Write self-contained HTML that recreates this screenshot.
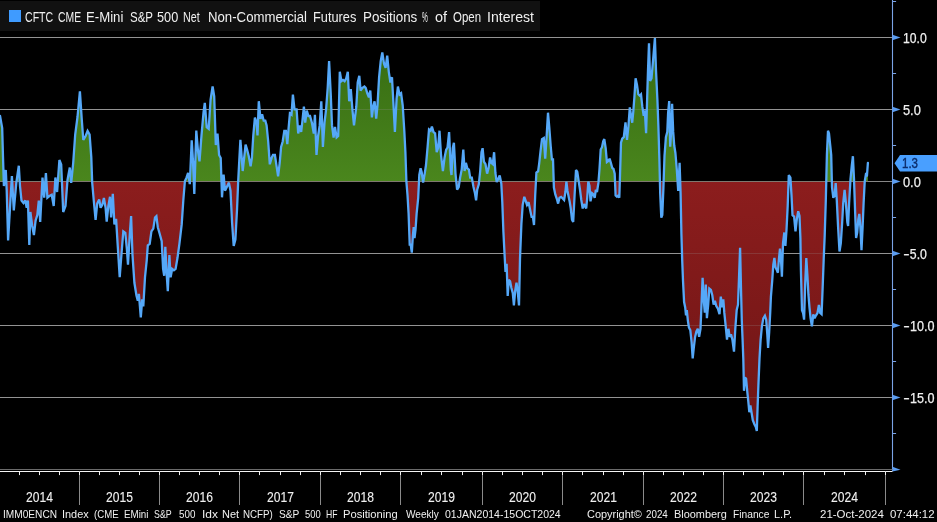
<!DOCTYPE html><html><head><meta charset="utf-8"><title>Chart</title><style>
html,body{margin:0;padding:0;background:#000;}
body{width:937px;height:522px;overflow:hidden;position:relative;font-family:"Liberation Sans",sans-serif;color:#f0f0f0;}
.t{position:absolute;white-space:nowrap;line-height:1;transform-origin:0 0;}
.yl{font-size:14px;-webkit-text-stroke:0.25px #f0f0f0;}
.m{display:inline-block;width:0.556em;text-align:center;transform:scaleX(1.55);}
.yr{font-size:14px;-webkit-text-stroke:0.1px #f0f0f0;}
.ft{font-size:11px;}
.lgd{font-size:14px;}
.g{position:absolute;left:0;width:937px;height:16px;white-space:nowrap;line-height:1;}
</style></head><body>
<svg width="937" height="522" viewBox="0 0 937 522" style="position:absolute;left:0;top:0">
<defs>
<clipPath id="up"><rect x="0" y="0" width="937" height="181.5"/></clipPath>
<clipPath id="dn"><rect x="0" y="181.5" width="937" height="522"/></clipPath>
<linearGradient id="gg" x1="0" y1="37" x2="0" y2="181" gradientUnits="userSpaceOnUse"><stop offset="0" stop-color="#356a12"/><stop offset="1" stop-color="#4a861d"/></linearGradient>
<linearGradient id="rg" x1="0" y1="181" x2="0" y2="432" gradientUnits="userSpaceOnUse"><stop offset="0" stop-color="#8c1d1d"/><stop offset="1" stop-color="#6e1515"/></linearGradient>
</defs>
<rect width="937" height="522" fill="#000"/>
<line x1="0" y1="37.5" x2="892.5" y2="37.5" stroke="#929292" stroke-width="1"/>
<line x1="0" y1="109.5" x2="892.5" y2="109.5" stroke="#929292" stroke-width="1"/>
<line x1="0" y1="181.5" x2="892.5" y2="181.5" stroke="#929292" stroke-width="1"/>
<line x1="0" y1="253.5" x2="892.5" y2="253.5" stroke="#929292" stroke-width="1"/>
<line x1="0" y1="325.5" x2="892.5" y2="325.5" stroke="#929292" stroke-width="1"/>
<line x1="0" y1="397.5" x2="892.5" y2="397.5" stroke="#929292" stroke-width="1"/>
<path d="M0.0,115.8 L2.2,128.0 L3.0,157.0 L3.9,186.0 L5.8,170.0 L6.7,190.0 L8.1,240.5 L10.0,208.0 L11.9,176.0 L13.8,210.5 L16.3,183.0 L18.8,165.7 L20.0,186.0 L21.5,200.5 L23.5,203.0 L25.3,200.5 L26.7,207.7 L27.9,200.5 L29.3,245.0 L30.4,212.0 L32.2,226.0 L33.9,235.0 L35.6,220.6 L37.3,215.0 L38.8,200.5 L40.2,222.0 L42.5,177.5 L44.2,197.6 L45.9,173.0 L47.4,197.6 L49.4,196.0 L51.7,194.8 L53.7,206.0 L55.4,177.5 L57.1,192.0 L59.4,160.0 L61.2,164.6 L63.2,212.0 L65.5,206.0 L67.5,180.0 L69.8,167.5 L71.2,183.0 L73.2,163.0 L75.2,134.5 L77.5,117.0 L79.9,91.3 L81.8,120.0 L83.3,140.0 L85.6,136.0 L87.6,131.0 L89.6,134.5 L91.3,157.4 L92.2,182.8 L93.9,202.0 L95.6,220.0 L97.2,203.6 L99.2,199.4 L100.6,207.8 L102.2,205.0 L103.9,198.0 L105.6,207.8 L106.7,221.7 L108.3,206.4 L110.0,196.7 L111.1,217.5 L112.8,193.9 L114.4,224.4 L116.1,218.9 L117.8,246.7 L119.7,277.2 L121.4,255.0 L123.3,231.4 L125.3,232.8 L126.9,249.4 L128.0,264.7 L129.7,235.6 L131.1,216.1 L132.5,255.0 L134.4,282.8 L136.4,295.3 L137.8,300.8 L138.9,293.9 L140.8,317.5 L142.2,299.4 L143.3,306.4 L145.0,277.2 L146.7,260.6 L147.8,245.3 L149.7,243.9 L151.4,231.4 L153.3,228.6 L155.0,217.5 L156.4,216.1 L157.8,227.2 L159.4,232.8 L161.7,241.1 L163.1,268.9 L164.2,275.8 L165.3,246.7 L166.7,274.4 L167.8,291.1 L169.4,255.0 L170.6,277.2 L172.2,268.9 L173.9,270.3 L175.6,268.9 L177.5,257.8 L179.4,243.9 L181.7,224.4 L183.3,200.5 L184.9,181.0 L186.5,177.7 L188.1,172.8 L189.8,184.2 L191.7,140.3 L193.0,161.4 L194.3,194.0 L196.3,130.5 L197.9,150.0 L199.5,161.4 L201.5,135.4 L203.5,112.6 L204.8,102.8 L206.7,127.2 L208.7,128.9 L210.6,99.5 L212.6,86.5 L214.2,96.3 L215.8,145.0 L217.5,133.7 L219.1,155.0 L220.7,158.0 L222.0,197.3 L223.6,174.5 L225.0,190.7 L226.6,187.5 L228.9,182.6 L230.5,190.7 L232.1,223.0 L233.7,246.0 L235.4,239.6 L237.0,210.0 L238.2,181.0 L239.3,160.0 L240.4,139.8 L242.7,171.0 L245.6,144.6 L247.2,150.0 L248.7,156.0 L250.6,166.3 L251.9,158.0 L253.3,135.4 L254.9,117.5 L256.5,122.3 L257.5,135.4 L258.8,101.2 L260.5,119.0 L262.1,114.2 L263.7,120.7 L265.3,120.7 L266.6,125.4 L268.2,141.5 L269.8,164.3 L271.7,157.6 L273.0,155.0 L274.9,155.0 L276.5,165.6 L278.1,176.4 L279.7,163.0 L281.1,146.9 L282.7,141.5 L284.3,130.8 L285.9,130.8 L287.3,144.2 L288.6,128.0 L289.9,113.4 L291.5,114.7 L292.9,94.6 L294.5,109.3 L296.6,109.3 L298.2,133.5 L299.9,125.4 L301.2,132.0 L302.5,120.0 L303.9,106.7 L305.2,122.7 L306.8,110.7 L308.4,116.0 L310.0,116.0 L311.9,122.7 L313.8,133.5 L314.9,114.7 L316.5,155.0 L318.1,136.0 L319.7,125.4 L321.3,101.3 L322.9,146.9 L324.5,122.7 L326.1,109.3 L327.7,87.9 L329.1,61.1 L330.7,93.3 L332.0,125.4 L333.6,137.5 L335.0,126.8 L336.6,137.5 L338.2,136.0 L339.8,71.8 L341.4,81.2 L343.0,79.9 L344.6,81.2 L346.2,78.5 L347.8,71.8 L349.2,101.3 L350.8,89.2 L352.4,109.3 L354.0,125.4 L356.3,106.7 L357.7,82.5 L359.3,75.8 L360.6,90.6 L362.5,87.9 L364.4,86.6 L365.7,87.9 L367.3,93.3 L368.9,97.3 L370.3,90.6 L371.9,117.4 L373.2,106.7 L374.6,101.3 L376.2,118.7 L377.5,105.3 L379.1,77.2 L380.7,61.1 L382.3,52.5 L384.0,63.8 L385.6,67.8 L387.2,55.7 L388.8,71.8 L390.4,82.5 L392.0,77.2 L393.6,106.7 L394.9,132.0 L396.6,98.6 L397.9,86.6 L399.5,94.6 L401.1,93.3 L402.7,105.3 L404.3,130.8 L405.4,152.2 L406.4,181.7 L407.5,195.0 L408.6,213.8 L409.7,244.7 L410.7,244.7 L411.8,252.7 L412.9,235.3 L413.7,227.2 L414.5,238.0 L415.5,230.0 L416.6,213.8 L418.2,198.0 L419.3,175.0 L420.6,168.3 L421.7,172.3 L423.1,182.5 L424.7,173.6 L426.0,165.0 L427.6,146.8 L429.0,129.4 L430.6,130.7 L431.9,126.7 L433.5,132.0 L435.1,133.4 L436.7,152.2 L438.1,148.0 L439.5,130.7 L441.0,155.0 L442.9,171.0 L444.5,158.0 L446.1,150.0 L447.5,147.5 L449.1,132.0 L450.8,170.0 L451.5,175.0 L452.8,148.0 L453.9,142.8 L455.5,173.6 L457.1,189.7 L458.7,187.0 L460.1,177.6 L461.7,169.6 L463.3,149.5 L464.6,171.0 L465.9,162.9 L467.3,168.3 L468.9,169.6 L470.2,177.6 L471.8,177.6 L473.5,187.0 L474.8,192.4 L476.1,200.4 L477.2,189.7 L478.8,184.3 L480.2,171.0 L481.5,152.2 L482.6,148.2 L483.9,161.6 L485.5,164.2 L487.1,173.6 L488.5,168.3 L490.1,157.5 L491.4,162.9 L492.8,164.2 L494.1,152.2 L495.4,173.0 L496.7,182.0 L498.0,179.4 L499.7,175.4 L501.3,183.4 L502.3,202.2 L503.4,231.7 L504.5,253.1 L505.5,271.9 L506.6,263.8 L507.7,296.0 L508.8,279.9 L510.1,281.3 L511.4,288.0 L512.8,293.3 L513.9,305.4 L515.2,290.6 L516.5,282.6 L517.9,293.3 L519.0,305.4 L520.0,258.5 L521.4,223.6 L522.7,204.9 L524.3,196.8 L525.7,200.8 L527.0,204.9 L528.6,202.2 L530.2,210.2 L531.6,216.9 L532.9,216.9 L534.0,225.0 L535.2,195.0 L536.4,172.5 L538.1,171.3 L539.2,163.3 L540.6,150.6 L542.0,139.1 L543.8,138.0 L545.2,158.7 L546.6,136.8 L548.0,112.7 L549.3,127.6 L550.7,146.0 L551.9,159.4 L553.0,159.4 L553.9,187.5 L555.3,194.4 L556.9,199.0 L558.1,203.6 L559.5,197.8 L561.1,197.0 L562.7,198.5 L564.1,200.0 L565.4,192.0 L566.4,181.7 L567.5,190.9 L568.7,197.0 L569.6,201.3 L570.7,208.0 L572.0,219.7 L573.2,222.0 L574.6,195.0 L576.0,170.0 L577.3,172.0 L578.6,180.7 L579.9,189.0 L581.3,200.0 L582.7,208.5 L584.0,204.0 L585.2,206.5 L586.2,208.5 L587.2,198.0 L588.3,181.5 L589.5,186.0 L590.5,201.3 L592.1,193.2 L593.5,194.4 L594.7,197.8 L595.8,189.8 L597.0,192.0 L598.4,182.9 L599.5,169.0 L600.7,149.5 L602.0,147.2 L603.2,141.4 L604.3,139.1 L605.7,148.3 L606.9,162.1 L608.3,161.0 L609.6,158.7 L611.0,163.3 L612.2,167.9 L613.5,169.0 L614.7,173.6 L615.6,195.5 L617.0,196.7 L618.4,195.5 L619.3,197.8 L620.2,169.0 L621.0,142.6 L622.2,138.6 L623.8,137.2 L625.5,122.3 L627.0,139.9 L628.4,126.5 L629.8,107.3 L631.2,116.5 L632.2,122.7 L633.3,111.5 L634.4,97.0 L635.6,78.3 L637.0,85.0 L638.3,94.3 L639.7,95.7 L641.0,94.3 L642.3,106.4 L643.7,115.8 L644.8,110.4 L646.1,133.2 L647.2,97.0 L648.0,70.2 L649.0,43.4 L650.1,80.9 L651.5,78.3 L652.8,63.5 L653.9,50.1 L654.9,38.0 L656.0,70.2 L657.4,99.7 L658.4,126.5 L659.4,160.0 L660.2,193.6 L661.3,217.7 L662.3,215.0 L663.4,188.3 L664.5,156.0 L665.9,137.2 L667.3,131.9 L668.1,113.1 L669.2,101.0 L670.2,146.6 L671.3,129.2 L672.1,103.7 L673.2,131.9 L674.2,145.3 L675.4,153.0 L676.8,169.5 L678.2,190.9 L679.6,162.8 L680.6,193.6 L681.4,233.8 L682.2,260.0 L683.0,280.6 L684.1,302.0 L685.2,307.4 L686.0,315.4 L686.8,310.0 L687.9,320.8 L688.9,327.5 L690.3,330.2 L691.6,342.2 L692.7,358.3 L693.8,347.6 L695.1,336.9 L696.4,331.5 L697.8,328.8 L699.1,336.9 L700.5,328.8 L701.5,304.7 L702.6,277.9 L703.7,299.3 L704.8,312.7 L705.8,284.6 L706.9,318.1 L708.2,304.7 L709.3,288.6 L710.9,290.0 L712.3,295.3 L713.6,304.7 L714.9,300.7 L716.3,306.0 L717.9,308.7 L719.5,314.1 L720.8,296.7 L722.2,307.4 L723.3,299.3 L724.3,312.7 L725.7,326.2 L727.0,339.6 L728.4,328.8 L729.7,336.9 L731.0,334.2 L732.4,339.6 L734.0,351.6 L735.3,328.8 L736.7,310.0 L738.0,304.7 L739.1,275.2 L740.1,247.9 L741.0,288.6 L741.8,320.8 L742.6,340.0 L743.3,358.6 L744.0,390.8 L745.0,377.4 L746.1,378.7 L747.2,390.8 L748.3,401.5 L749.3,412.2 L750.4,405.5 L751.5,412.2 L752.8,420.3 L754.4,424.3 L755.8,427.0 L756.8,431.0 L757.6,406.9 L758.4,385.4 L759.5,358.6 L760.6,339.9 L761.9,326.4 L763.3,318.4 L764.9,315.7 L766.2,319.7 L767.3,334.5 L768.1,347.9 L769.2,331.8 L770.2,313.0 L770.9,296.9 L772.2,280.8 L773.3,264.7 L774.4,258.0 L775.5,267.4 L776.8,270.0 L777.9,272.7 L778.9,259.3 L780.0,248.6 L781.1,262.0 L781.9,276.8 L783.0,243.3 L784.3,232.5 L785.4,245.9 L786.5,230.0 L787.7,205.9 L788.8,175.0 L790.4,177.7 L791.5,195.1 L792.5,215.2 L794.1,216.6 L795.5,231.3 L796.8,219.3 L798.2,211.2 L799.5,216.0 L800.4,238.0 L800.9,270.0 L802.0,310.3 L803.1,313.0 L804.1,319.7 L805.2,283.5 L806.3,258.0 L807.4,275.4 L808.4,294.2 L809.5,307.6 L810.6,318.3 L811.9,326.4 L813.3,314.3 L814.6,318.3 L815.9,315.6 L817.5,313.0 L818.9,304.9 L820.2,313.0 L821.6,314.3 L822.7,286.2 L823.7,259.3 L824.7,235.4 L825.8,200.5 L826.9,154.9 L828.0,130.7 L829.0,133.4 L830.1,144.1 L831.2,154.9 L832.0,187.1 L833.3,197.8 L834.7,195.1 L835.7,183.0 L836.8,200.5 L838.1,227.3 L839.5,251.5 L840.8,243.4 L842.2,222.0 L843.2,203.2 L844.6,189.8 L845.9,203.2 L847.3,222.0 L848.1,226.0 L849.1,203.2 L850.5,179.0 L851.8,165.6 L852.9,156.2 L854.0,179.0 L855.0,208.5 L856.1,238.0 L857.2,232.7 L858.3,219.3 L859.3,213.9 L860.4,227.3 L861.5,250.1 L862.6,227.3 L863.6,203.2 L864.7,181.7 L865.8,175.0 L866.9,176.3 L867.9,162.9 L867.9,181.5 L0.0,181.5 Z" fill="url(#gg)" clip-path="url(#up)"/>
<path d="M0.0,115.8 L2.2,128.0 L3.0,157.0 L3.9,186.0 L5.8,170.0 L6.7,190.0 L8.1,240.5 L10.0,208.0 L11.9,176.0 L13.8,210.5 L16.3,183.0 L18.8,165.7 L20.0,186.0 L21.5,200.5 L23.5,203.0 L25.3,200.5 L26.7,207.7 L27.9,200.5 L29.3,245.0 L30.4,212.0 L32.2,226.0 L33.9,235.0 L35.6,220.6 L37.3,215.0 L38.8,200.5 L40.2,222.0 L42.5,177.5 L44.2,197.6 L45.9,173.0 L47.4,197.6 L49.4,196.0 L51.7,194.8 L53.7,206.0 L55.4,177.5 L57.1,192.0 L59.4,160.0 L61.2,164.6 L63.2,212.0 L65.5,206.0 L67.5,180.0 L69.8,167.5 L71.2,183.0 L73.2,163.0 L75.2,134.5 L77.5,117.0 L79.9,91.3 L81.8,120.0 L83.3,140.0 L85.6,136.0 L87.6,131.0 L89.6,134.5 L91.3,157.4 L92.2,182.8 L93.9,202.0 L95.6,220.0 L97.2,203.6 L99.2,199.4 L100.6,207.8 L102.2,205.0 L103.9,198.0 L105.6,207.8 L106.7,221.7 L108.3,206.4 L110.0,196.7 L111.1,217.5 L112.8,193.9 L114.4,224.4 L116.1,218.9 L117.8,246.7 L119.7,277.2 L121.4,255.0 L123.3,231.4 L125.3,232.8 L126.9,249.4 L128.0,264.7 L129.7,235.6 L131.1,216.1 L132.5,255.0 L134.4,282.8 L136.4,295.3 L137.8,300.8 L138.9,293.9 L140.8,317.5 L142.2,299.4 L143.3,306.4 L145.0,277.2 L146.7,260.6 L147.8,245.3 L149.7,243.9 L151.4,231.4 L153.3,228.6 L155.0,217.5 L156.4,216.1 L157.8,227.2 L159.4,232.8 L161.7,241.1 L163.1,268.9 L164.2,275.8 L165.3,246.7 L166.7,274.4 L167.8,291.1 L169.4,255.0 L170.6,277.2 L172.2,268.9 L173.9,270.3 L175.6,268.9 L177.5,257.8 L179.4,243.9 L181.7,224.4 L183.3,200.5 L184.9,181.0 L186.5,177.7 L188.1,172.8 L189.8,184.2 L191.7,140.3 L193.0,161.4 L194.3,194.0 L196.3,130.5 L197.9,150.0 L199.5,161.4 L201.5,135.4 L203.5,112.6 L204.8,102.8 L206.7,127.2 L208.7,128.9 L210.6,99.5 L212.6,86.5 L214.2,96.3 L215.8,145.0 L217.5,133.7 L219.1,155.0 L220.7,158.0 L222.0,197.3 L223.6,174.5 L225.0,190.7 L226.6,187.5 L228.9,182.6 L230.5,190.7 L232.1,223.0 L233.7,246.0 L235.4,239.6 L237.0,210.0 L238.2,181.0 L239.3,160.0 L240.4,139.8 L242.7,171.0 L245.6,144.6 L247.2,150.0 L248.7,156.0 L250.6,166.3 L251.9,158.0 L253.3,135.4 L254.9,117.5 L256.5,122.3 L257.5,135.4 L258.8,101.2 L260.5,119.0 L262.1,114.2 L263.7,120.7 L265.3,120.7 L266.6,125.4 L268.2,141.5 L269.8,164.3 L271.7,157.6 L273.0,155.0 L274.9,155.0 L276.5,165.6 L278.1,176.4 L279.7,163.0 L281.1,146.9 L282.7,141.5 L284.3,130.8 L285.9,130.8 L287.3,144.2 L288.6,128.0 L289.9,113.4 L291.5,114.7 L292.9,94.6 L294.5,109.3 L296.6,109.3 L298.2,133.5 L299.9,125.4 L301.2,132.0 L302.5,120.0 L303.9,106.7 L305.2,122.7 L306.8,110.7 L308.4,116.0 L310.0,116.0 L311.9,122.7 L313.8,133.5 L314.9,114.7 L316.5,155.0 L318.1,136.0 L319.7,125.4 L321.3,101.3 L322.9,146.9 L324.5,122.7 L326.1,109.3 L327.7,87.9 L329.1,61.1 L330.7,93.3 L332.0,125.4 L333.6,137.5 L335.0,126.8 L336.6,137.5 L338.2,136.0 L339.8,71.8 L341.4,81.2 L343.0,79.9 L344.6,81.2 L346.2,78.5 L347.8,71.8 L349.2,101.3 L350.8,89.2 L352.4,109.3 L354.0,125.4 L356.3,106.7 L357.7,82.5 L359.3,75.8 L360.6,90.6 L362.5,87.9 L364.4,86.6 L365.7,87.9 L367.3,93.3 L368.9,97.3 L370.3,90.6 L371.9,117.4 L373.2,106.7 L374.6,101.3 L376.2,118.7 L377.5,105.3 L379.1,77.2 L380.7,61.1 L382.3,52.5 L384.0,63.8 L385.6,67.8 L387.2,55.7 L388.8,71.8 L390.4,82.5 L392.0,77.2 L393.6,106.7 L394.9,132.0 L396.6,98.6 L397.9,86.6 L399.5,94.6 L401.1,93.3 L402.7,105.3 L404.3,130.8 L405.4,152.2 L406.4,181.7 L407.5,195.0 L408.6,213.8 L409.7,244.7 L410.7,244.7 L411.8,252.7 L412.9,235.3 L413.7,227.2 L414.5,238.0 L415.5,230.0 L416.6,213.8 L418.2,198.0 L419.3,175.0 L420.6,168.3 L421.7,172.3 L423.1,182.5 L424.7,173.6 L426.0,165.0 L427.6,146.8 L429.0,129.4 L430.6,130.7 L431.9,126.7 L433.5,132.0 L435.1,133.4 L436.7,152.2 L438.1,148.0 L439.5,130.7 L441.0,155.0 L442.9,171.0 L444.5,158.0 L446.1,150.0 L447.5,147.5 L449.1,132.0 L450.8,170.0 L451.5,175.0 L452.8,148.0 L453.9,142.8 L455.5,173.6 L457.1,189.7 L458.7,187.0 L460.1,177.6 L461.7,169.6 L463.3,149.5 L464.6,171.0 L465.9,162.9 L467.3,168.3 L468.9,169.6 L470.2,177.6 L471.8,177.6 L473.5,187.0 L474.8,192.4 L476.1,200.4 L477.2,189.7 L478.8,184.3 L480.2,171.0 L481.5,152.2 L482.6,148.2 L483.9,161.6 L485.5,164.2 L487.1,173.6 L488.5,168.3 L490.1,157.5 L491.4,162.9 L492.8,164.2 L494.1,152.2 L495.4,173.0 L496.7,182.0 L498.0,179.4 L499.7,175.4 L501.3,183.4 L502.3,202.2 L503.4,231.7 L504.5,253.1 L505.5,271.9 L506.6,263.8 L507.7,296.0 L508.8,279.9 L510.1,281.3 L511.4,288.0 L512.8,293.3 L513.9,305.4 L515.2,290.6 L516.5,282.6 L517.9,293.3 L519.0,305.4 L520.0,258.5 L521.4,223.6 L522.7,204.9 L524.3,196.8 L525.7,200.8 L527.0,204.9 L528.6,202.2 L530.2,210.2 L531.6,216.9 L532.9,216.9 L534.0,225.0 L535.2,195.0 L536.4,172.5 L538.1,171.3 L539.2,163.3 L540.6,150.6 L542.0,139.1 L543.8,138.0 L545.2,158.7 L546.6,136.8 L548.0,112.7 L549.3,127.6 L550.7,146.0 L551.9,159.4 L553.0,159.4 L553.9,187.5 L555.3,194.4 L556.9,199.0 L558.1,203.6 L559.5,197.8 L561.1,197.0 L562.7,198.5 L564.1,200.0 L565.4,192.0 L566.4,181.7 L567.5,190.9 L568.7,197.0 L569.6,201.3 L570.7,208.0 L572.0,219.7 L573.2,222.0 L574.6,195.0 L576.0,170.0 L577.3,172.0 L578.6,180.7 L579.9,189.0 L581.3,200.0 L582.7,208.5 L584.0,204.0 L585.2,206.5 L586.2,208.5 L587.2,198.0 L588.3,181.5 L589.5,186.0 L590.5,201.3 L592.1,193.2 L593.5,194.4 L594.7,197.8 L595.8,189.8 L597.0,192.0 L598.4,182.9 L599.5,169.0 L600.7,149.5 L602.0,147.2 L603.2,141.4 L604.3,139.1 L605.7,148.3 L606.9,162.1 L608.3,161.0 L609.6,158.7 L611.0,163.3 L612.2,167.9 L613.5,169.0 L614.7,173.6 L615.6,195.5 L617.0,196.7 L618.4,195.5 L619.3,197.8 L620.2,169.0 L621.0,142.6 L622.2,138.6 L623.8,137.2 L625.5,122.3 L627.0,139.9 L628.4,126.5 L629.8,107.3 L631.2,116.5 L632.2,122.7 L633.3,111.5 L634.4,97.0 L635.6,78.3 L637.0,85.0 L638.3,94.3 L639.7,95.7 L641.0,94.3 L642.3,106.4 L643.7,115.8 L644.8,110.4 L646.1,133.2 L647.2,97.0 L648.0,70.2 L649.0,43.4 L650.1,80.9 L651.5,78.3 L652.8,63.5 L653.9,50.1 L654.9,38.0 L656.0,70.2 L657.4,99.7 L658.4,126.5 L659.4,160.0 L660.2,193.6 L661.3,217.7 L662.3,215.0 L663.4,188.3 L664.5,156.0 L665.9,137.2 L667.3,131.9 L668.1,113.1 L669.2,101.0 L670.2,146.6 L671.3,129.2 L672.1,103.7 L673.2,131.9 L674.2,145.3 L675.4,153.0 L676.8,169.5 L678.2,190.9 L679.6,162.8 L680.6,193.6 L681.4,233.8 L682.2,260.0 L683.0,280.6 L684.1,302.0 L685.2,307.4 L686.0,315.4 L686.8,310.0 L687.9,320.8 L688.9,327.5 L690.3,330.2 L691.6,342.2 L692.7,358.3 L693.8,347.6 L695.1,336.9 L696.4,331.5 L697.8,328.8 L699.1,336.9 L700.5,328.8 L701.5,304.7 L702.6,277.9 L703.7,299.3 L704.8,312.7 L705.8,284.6 L706.9,318.1 L708.2,304.7 L709.3,288.6 L710.9,290.0 L712.3,295.3 L713.6,304.7 L714.9,300.7 L716.3,306.0 L717.9,308.7 L719.5,314.1 L720.8,296.7 L722.2,307.4 L723.3,299.3 L724.3,312.7 L725.7,326.2 L727.0,339.6 L728.4,328.8 L729.7,336.9 L731.0,334.2 L732.4,339.6 L734.0,351.6 L735.3,328.8 L736.7,310.0 L738.0,304.7 L739.1,275.2 L740.1,247.9 L741.0,288.6 L741.8,320.8 L742.6,340.0 L743.3,358.6 L744.0,390.8 L745.0,377.4 L746.1,378.7 L747.2,390.8 L748.3,401.5 L749.3,412.2 L750.4,405.5 L751.5,412.2 L752.8,420.3 L754.4,424.3 L755.8,427.0 L756.8,431.0 L757.6,406.9 L758.4,385.4 L759.5,358.6 L760.6,339.9 L761.9,326.4 L763.3,318.4 L764.9,315.7 L766.2,319.7 L767.3,334.5 L768.1,347.9 L769.2,331.8 L770.2,313.0 L770.9,296.9 L772.2,280.8 L773.3,264.7 L774.4,258.0 L775.5,267.4 L776.8,270.0 L777.9,272.7 L778.9,259.3 L780.0,248.6 L781.1,262.0 L781.9,276.8 L783.0,243.3 L784.3,232.5 L785.4,245.9 L786.5,230.0 L787.7,205.9 L788.8,175.0 L790.4,177.7 L791.5,195.1 L792.5,215.2 L794.1,216.6 L795.5,231.3 L796.8,219.3 L798.2,211.2 L799.5,216.0 L800.4,238.0 L800.9,270.0 L802.0,310.3 L803.1,313.0 L804.1,319.7 L805.2,283.5 L806.3,258.0 L807.4,275.4 L808.4,294.2 L809.5,307.6 L810.6,318.3 L811.9,326.4 L813.3,314.3 L814.6,318.3 L815.9,315.6 L817.5,313.0 L818.9,304.9 L820.2,313.0 L821.6,314.3 L822.7,286.2 L823.7,259.3 L824.7,235.4 L825.8,200.5 L826.9,154.9 L828.0,130.7 L829.0,133.4 L830.1,144.1 L831.2,154.9 L832.0,187.1 L833.3,197.8 L834.7,195.1 L835.7,183.0 L836.8,200.5 L838.1,227.3 L839.5,251.5 L840.8,243.4 L842.2,222.0 L843.2,203.2 L844.6,189.8 L845.9,203.2 L847.3,222.0 L848.1,226.0 L849.1,203.2 L850.5,179.0 L851.8,165.6 L852.9,156.2 L854.0,179.0 L855.0,208.5 L856.1,238.0 L857.2,232.7 L858.3,219.3 L859.3,213.9 L860.4,227.3 L861.5,250.1 L862.6,227.3 L863.6,203.2 L864.7,181.7 L865.8,175.0 L866.9,176.3 L867.9,162.9 L867.9,181.5 L0.0,181.5 Z" fill="url(#rg)" clip-path="url(#dn)"/>
<line x1="0" y1="37.5" x2="892.5" y2="37.5" stroke="#9a9a9a" stroke-width="1" opacity="0.22"/>
<line x1="0" y1="109.5" x2="892.5" y2="109.5" stroke="#9a9a9a" stroke-width="1" opacity="0.22"/>
<line x1="0" y1="253.5" x2="892.5" y2="253.5" stroke="#9a9a9a" stroke-width="1" opacity="0.22"/>
<line x1="0" y1="325.5" x2="892.5" y2="325.5" stroke="#9a9a9a" stroke-width="1" opacity="0.22"/>
<line x1="0" y1="397.5" x2="892.5" y2="397.5" stroke="#9a9a9a" stroke-width="1" opacity="0.22"/>
<line x1="0" y1="181.5" x2="892.5" y2="181.5" stroke="#7d7d7d" stroke-width="1" opacity="0.55"/>
<path d="M0.0,115.8 L2.2,128.0 L3.0,157.0 L3.9,186.0 L5.8,170.0 L6.7,190.0 L8.1,240.5 L10.0,208.0 L11.9,176.0 L13.8,210.5 L16.3,183.0 L18.8,165.7 L20.0,186.0 L21.5,200.5 L23.5,203.0 L25.3,200.5 L26.7,207.7 L27.9,200.5 L29.3,245.0 L30.4,212.0 L32.2,226.0 L33.9,235.0 L35.6,220.6 L37.3,215.0 L38.8,200.5 L40.2,222.0 L42.5,177.5 L44.2,197.6 L45.9,173.0 L47.4,197.6 L49.4,196.0 L51.7,194.8 L53.7,206.0 L55.4,177.5 L57.1,192.0 L59.4,160.0 L61.2,164.6 L63.2,212.0 L65.5,206.0 L67.5,180.0 L69.8,167.5 L71.2,183.0 L73.2,163.0 L75.2,134.5 L77.5,117.0 L79.9,91.3 L81.8,120.0 L83.3,140.0 L85.6,136.0 L87.6,131.0 L89.6,134.5 L91.3,157.4 L92.2,182.8 L93.9,202.0 L95.6,220.0 L97.2,203.6 L99.2,199.4 L100.6,207.8 L102.2,205.0 L103.9,198.0 L105.6,207.8 L106.7,221.7 L108.3,206.4 L110.0,196.7 L111.1,217.5 L112.8,193.9 L114.4,224.4 L116.1,218.9 L117.8,246.7 L119.7,277.2 L121.4,255.0 L123.3,231.4 L125.3,232.8 L126.9,249.4 L128.0,264.7 L129.7,235.6 L131.1,216.1 L132.5,255.0 L134.4,282.8 L136.4,295.3 L137.8,300.8 L138.9,293.9 L140.8,317.5 L142.2,299.4 L143.3,306.4 L145.0,277.2 L146.7,260.6 L147.8,245.3 L149.7,243.9 L151.4,231.4 L153.3,228.6 L155.0,217.5 L156.4,216.1 L157.8,227.2 L159.4,232.8 L161.7,241.1 L163.1,268.9 L164.2,275.8 L165.3,246.7 L166.7,274.4 L167.8,291.1 L169.4,255.0 L170.6,277.2 L172.2,268.9 L173.9,270.3 L175.6,268.9 L177.5,257.8 L179.4,243.9 L181.7,224.4 L183.3,200.5 L184.9,181.0 L186.5,177.7 L188.1,172.8 L189.8,184.2 L191.7,140.3 L193.0,161.4 L194.3,194.0 L196.3,130.5 L197.9,150.0 L199.5,161.4 L201.5,135.4 L203.5,112.6 L204.8,102.8 L206.7,127.2 L208.7,128.9 L210.6,99.5 L212.6,86.5 L214.2,96.3 L215.8,145.0 L217.5,133.7 L219.1,155.0 L220.7,158.0 L222.0,197.3 L223.6,174.5 L225.0,190.7 L226.6,187.5 L228.9,182.6 L230.5,190.7 L232.1,223.0 L233.7,246.0 L235.4,239.6 L237.0,210.0 L238.2,181.0 L239.3,160.0 L240.4,139.8 L242.7,171.0 L245.6,144.6 L247.2,150.0 L248.7,156.0 L250.6,166.3 L251.9,158.0 L253.3,135.4 L254.9,117.5 L256.5,122.3 L257.5,135.4 L258.8,101.2 L260.5,119.0 L262.1,114.2 L263.7,120.7 L265.3,120.7 L266.6,125.4 L268.2,141.5 L269.8,164.3 L271.7,157.6 L273.0,155.0 L274.9,155.0 L276.5,165.6 L278.1,176.4 L279.7,163.0 L281.1,146.9 L282.7,141.5 L284.3,130.8 L285.9,130.8 L287.3,144.2 L288.6,128.0 L289.9,113.4 L291.5,114.7 L292.9,94.6 L294.5,109.3 L296.6,109.3 L298.2,133.5 L299.9,125.4 L301.2,132.0 L302.5,120.0 L303.9,106.7 L305.2,122.7 L306.8,110.7 L308.4,116.0 L310.0,116.0 L311.9,122.7 L313.8,133.5 L314.9,114.7 L316.5,155.0 L318.1,136.0 L319.7,125.4 L321.3,101.3 L322.9,146.9 L324.5,122.7 L326.1,109.3 L327.7,87.9 L329.1,61.1 L330.7,93.3 L332.0,125.4 L333.6,137.5 L335.0,126.8 L336.6,137.5 L338.2,136.0 L339.8,71.8 L341.4,81.2 L343.0,79.9 L344.6,81.2 L346.2,78.5 L347.8,71.8 L349.2,101.3 L350.8,89.2 L352.4,109.3 L354.0,125.4 L356.3,106.7 L357.7,82.5 L359.3,75.8 L360.6,90.6 L362.5,87.9 L364.4,86.6 L365.7,87.9 L367.3,93.3 L368.9,97.3 L370.3,90.6 L371.9,117.4 L373.2,106.7 L374.6,101.3 L376.2,118.7 L377.5,105.3 L379.1,77.2 L380.7,61.1 L382.3,52.5 L384.0,63.8 L385.6,67.8 L387.2,55.7 L388.8,71.8 L390.4,82.5 L392.0,77.2 L393.6,106.7 L394.9,132.0 L396.6,98.6 L397.9,86.6 L399.5,94.6 L401.1,93.3 L402.7,105.3 L404.3,130.8 L405.4,152.2 L406.4,181.7 L407.5,195.0 L408.6,213.8 L409.7,244.7 L410.7,244.7 L411.8,252.7 L412.9,235.3 L413.7,227.2 L414.5,238.0 L415.5,230.0 L416.6,213.8 L418.2,198.0 L419.3,175.0 L420.6,168.3 L421.7,172.3 L423.1,182.5 L424.7,173.6 L426.0,165.0 L427.6,146.8 L429.0,129.4 L430.6,130.7 L431.9,126.7 L433.5,132.0 L435.1,133.4 L436.7,152.2 L438.1,148.0 L439.5,130.7 L441.0,155.0 L442.9,171.0 L444.5,158.0 L446.1,150.0 L447.5,147.5 L449.1,132.0 L450.8,170.0 L451.5,175.0 L452.8,148.0 L453.9,142.8 L455.5,173.6 L457.1,189.7 L458.7,187.0 L460.1,177.6 L461.7,169.6 L463.3,149.5 L464.6,171.0 L465.9,162.9 L467.3,168.3 L468.9,169.6 L470.2,177.6 L471.8,177.6 L473.5,187.0 L474.8,192.4 L476.1,200.4 L477.2,189.7 L478.8,184.3 L480.2,171.0 L481.5,152.2 L482.6,148.2 L483.9,161.6 L485.5,164.2 L487.1,173.6 L488.5,168.3 L490.1,157.5 L491.4,162.9 L492.8,164.2 L494.1,152.2 L495.4,173.0 L496.7,182.0 L498.0,179.4 L499.7,175.4 L501.3,183.4 L502.3,202.2 L503.4,231.7 L504.5,253.1 L505.5,271.9 L506.6,263.8 L507.7,296.0 L508.8,279.9 L510.1,281.3 L511.4,288.0 L512.8,293.3 L513.9,305.4 L515.2,290.6 L516.5,282.6 L517.9,293.3 L519.0,305.4 L520.0,258.5 L521.4,223.6 L522.7,204.9 L524.3,196.8 L525.7,200.8 L527.0,204.9 L528.6,202.2 L530.2,210.2 L531.6,216.9 L532.9,216.9 L534.0,225.0 L535.2,195.0 L536.4,172.5 L538.1,171.3 L539.2,163.3 L540.6,150.6 L542.0,139.1 L543.8,138.0 L545.2,158.7 L546.6,136.8 L548.0,112.7 L549.3,127.6 L550.7,146.0 L551.9,159.4 L553.0,159.4 L553.9,187.5 L555.3,194.4 L556.9,199.0 L558.1,203.6 L559.5,197.8 L561.1,197.0 L562.7,198.5 L564.1,200.0 L565.4,192.0 L566.4,181.7 L567.5,190.9 L568.7,197.0 L569.6,201.3 L570.7,208.0 L572.0,219.7 L573.2,222.0 L574.6,195.0 L576.0,170.0 L577.3,172.0 L578.6,180.7 L579.9,189.0 L581.3,200.0 L582.7,208.5 L584.0,204.0 L585.2,206.5 L586.2,208.5 L587.2,198.0 L588.3,181.5 L589.5,186.0 L590.5,201.3 L592.1,193.2 L593.5,194.4 L594.7,197.8 L595.8,189.8 L597.0,192.0 L598.4,182.9 L599.5,169.0 L600.7,149.5 L602.0,147.2 L603.2,141.4 L604.3,139.1 L605.7,148.3 L606.9,162.1 L608.3,161.0 L609.6,158.7 L611.0,163.3 L612.2,167.9 L613.5,169.0 L614.7,173.6 L615.6,195.5 L617.0,196.7 L618.4,195.5 L619.3,197.8 L620.2,169.0 L621.0,142.6 L622.2,138.6 L623.8,137.2 L625.5,122.3 L627.0,139.9 L628.4,126.5 L629.8,107.3 L631.2,116.5 L632.2,122.7 L633.3,111.5 L634.4,97.0 L635.6,78.3 L637.0,85.0 L638.3,94.3 L639.7,95.7 L641.0,94.3 L642.3,106.4 L643.7,115.8 L644.8,110.4 L646.1,133.2 L647.2,97.0 L648.0,70.2 L649.0,43.4 L650.1,80.9 L651.5,78.3 L652.8,63.5 L653.9,50.1 L654.9,38.0 L656.0,70.2 L657.4,99.7 L658.4,126.5 L659.4,160.0 L660.2,193.6 L661.3,217.7 L662.3,215.0 L663.4,188.3 L664.5,156.0 L665.9,137.2 L667.3,131.9 L668.1,113.1 L669.2,101.0 L670.2,146.6 L671.3,129.2 L672.1,103.7 L673.2,131.9 L674.2,145.3 L675.4,153.0 L676.8,169.5 L678.2,190.9 L679.6,162.8 L680.6,193.6 L681.4,233.8 L682.2,260.0 L683.0,280.6 L684.1,302.0 L685.2,307.4 L686.0,315.4 L686.8,310.0 L687.9,320.8 L688.9,327.5 L690.3,330.2 L691.6,342.2 L692.7,358.3 L693.8,347.6 L695.1,336.9 L696.4,331.5 L697.8,328.8 L699.1,336.9 L700.5,328.8 L701.5,304.7 L702.6,277.9 L703.7,299.3 L704.8,312.7 L705.8,284.6 L706.9,318.1 L708.2,304.7 L709.3,288.6 L710.9,290.0 L712.3,295.3 L713.6,304.7 L714.9,300.7 L716.3,306.0 L717.9,308.7 L719.5,314.1 L720.8,296.7 L722.2,307.4 L723.3,299.3 L724.3,312.7 L725.7,326.2 L727.0,339.6 L728.4,328.8 L729.7,336.9 L731.0,334.2 L732.4,339.6 L734.0,351.6 L735.3,328.8 L736.7,310.0 L738.0,304.7 L739.1,275.2 L740.1,247.9 L741.0,288.6 L741.8,320.8 L742.6,340.0 L743.3,358.6 L744.0,390.8 L745.0,377.4 L746.1,378.7 L747.2,390.8 L748.3,401.5 L749.3,412.2 L750.4,405.5 L751.5,412.2 L752.8,420.3 L754.4,424.3 L755.8,427.0 L756.8,431.0 L757.6,406.9 L758.4,385.4 L759.5,358.6 L760.6,339.9 L761.9,326.4 L763.3,318.4 L764.9,315.7 L766.2,319.7 L767.3,334.5 L768.1,347.9 L769.2,331.8 L770.2,313.0 L770.9,296.9 L772.2,280.8 L773.3,264.7 L774.4,258.0 L775.5,267.4 L776.8,270.0 L777.9,272.7 L778.9,259.3 L780.0,248.6 L781.1,262.0 L781.9,276.8 L783.0,243.3 L784.3,232.5 L785.4,245.9 L786.5,230.0 L787.7,205.9 L788.8,175.0 L790.4,177.7 L791.5,195.1 L792.5,215.2 L794.1,216.6 L795.5,231.3 L796.8,219.3 L798.2,211.2 L799.5,216.0 L800.4,238.0 L800.9,270.0 L802.0,310.3 L803.1,313.0 L804.1,319.7 L805.2,283.5 L806.3,258.0 L807.4,275.4 L808.4,294.2 L809.5,307.6 L810.6,318.3 L811.9,326.4 L813.3,314.3 L814.6,318.3 L815.9,315.6 L817.5,313.0 L818.9,304.9 L820.2,313.0 L821.6,314.3 L822.7,286.2 L823.7,259.3 L824.7,235.4 L825.8,200.5 L826.9,154.9 L828.0,130.7 L829.0,133.4 L830.1,144.1 L831.2,154.9 L832.0,187.1 L833.3,197.8 L834.7,195.1 L835.7,183.0 L836.8,200.5 L838.1,227.3 L839.5,251.5 L840.8,243.4 L842.2,222.0 L843.2,203.2 L844.6,189.8 L845.9,203.2 L847.3,222.0 L848.1,226.0 L849.1,203.2 L850.5,179.0 L851.8,165.6 L852.9,156.2 L854.0,179.0 L855.0,208.5 L856.1,238.0 L857.2,232.7 L858.3,219.3 L859.3,213.9 L860.4,227.3 L861.5,250.1 L862.6,227.3 L863.6,203.2 L864.7,181.7 L865.8,175.0 L866.9,176.3 L867.9,162.9" fill="none" stroke="#55a8f8" stroke-width="2.3" stroke-linejoin="miter" stroke-miterlimit="2.5" stroke-linecap="round"/>
<rect x="0" y="1" width="540" height="30" fill="#111111"/>
<rect x="9" y="10" width="12" height="12" fill="#3f9bff"/>
<line x1="892.5" y1="0" x2="892.5" y2="471" stroke="#7aa3e6" stroke-width="1.1"/>
<line x1="892.5" y1="1.5" x2="896.1" y2="1.5" stroke="#7aa3e6" stroke-width="1"/>
<line x1="892.5" y1="37.5" x2="896.1" y2="37.5" stroke="#7aa3e6" stroke-width="1"/>
<line x1="892.5" y1="73.5" x2="896.1" y2="73.5" stroke="#7aa3e6" stroke-width="1"/>
<line x1="892.5" y1="109.5" x2="896.1" y2="109.5" stroke="#7aa3e6" stroke-width="1"/>
<line x1="892.5" y1="145.5" x2="896.1" y2="145.5" stroke="#7aa3e6" stroke-width="1"/>
<line x1="892.5" y1="181.5" x2="896.1" y2="181.5" stroke="#7aa3e6" stroke-width="1"/>
<line x1="892.5" y1="217.5" x2="896.1" y2="217.5" stroke="#7aa3e6" stroke-width="1"/>
<line x1="892.5" y1="253.5" x2="896.1" y2="253.5" stroke="#7aa3e6" stroke-width="1"/>
<line x1="892.5" y1="289.5" x2="896.1" y2="289.5" stroke="#7aa3e6" stroke-width="1"/>
<line x1="892.5" y1="325.5" x2="896.1" y2="325.5" stroke="#7aa3e6" stroke-width="1"/>
<line x1="892.5" y1="361.5" x2="896.1" y2="361.5" stroke="#7aa3e6" stroke-width="1"/>
<line x1="892.5" y1="397.5" x2="896.1" y2="397.5" stroke="#7aa3e6" stroke-width="1"/>
<line x1="892.5" y1="433.5" x2="896.1" y2="433.5" stroke="#7aa3e6" stroke-width="1"/>
<path d="M892.5,34.7 L900.5,37.5 L892.5,40.3 Z" fill="#5a9cf0"/>
<path d="M892.5,106.7 L900.5,109.5 L892.5,112.3 Z" fill="#5a9cf0"/>
<path d="M892.5,178.7 L900.5,181.5 L892.5,184.3 Z" fill="#5a9cf0"/>
<path d="M892.5,250.7 L900.5,253.5 L892.5,256.3 Z" fill="#5a9cf0"/>
<path d="M892.5,322.7 L900.5,325.5 L892.5,328.3 Z" fill="#5a9cf0"/>
<path d="M892.5,394.7 L900.5,397.5 L892.5,400.3 Z" fill="#5a9cf0"/>
<path d="M892.5,466.8 L900.5,469.7 L892.5,471.4 Z" fill="#5a9cf0"/>
<line x1="0" y1="469.5" x2="892.5" y2="469.5" stroke="#6a6a6a" stroke-width="1"/>
<line x1="0" y1="471.5" x2="892.5" y2="471.5" stroke="#f4f4f4" stroke-width="1.1"/>
<line x1="79.5" y1="471.5" x2="79.5" y2="505" stroke="#8a8a8a" stroke-width="1"/>
<line x1="79.5" y1="471.5" x2="79.5" y2="475.0" stroke="#f0f0f0" stroke-width="1"/>
<line x1="159.5" y1="471.5" x2="159.5" y2="505" stroke="#8a8a8a" stroke-width="1"/>
<line x1="159.5" y1="471.5" x2="159.5" y2="475.0" stroke="#f0f0f0" stroke-width="1"/>
<line x1="239.5" y1="471.5" x2="239.5" y2="505" stroke="#8a8a8a" stroke-width="1"/>
<line x1="239.5" y1="471.5" x2="239.5" y2="475.0" stroke="#f0f0f0" stroke-width="1"/>
<line x1="320.5" y1="471.5" x2="320.5" y2="505" stroke="#8a8a8a" stroke-width="1"/>
<line x1="320.5" y1="471.5" x2="320.5" y2="475.0" stroke="#f0f0f0" stroke-width="1"/>
<line x1="400.5" y1="471.5" x2="400.5" y2="505" stroke="#8a8a8a" stroke-width="1"/>
<line x1="400.5" y1="471.5" x2="400.5" y2="475.0" stroke="#f0f0f0" stroke-width="1"/>
<line x1="482.5" y1="471.5" x2="482.5" y2="505" stroke="#8a8a8a" stroke-width="1"/>
<line x1="482.5" y1="471.5" x2="482.5" y2="475.0" stroke="#f0f0f0" stroke-width="1"/>
<line x1="562.5" y1="471.5" x2="562.5" y2="505" stroke="#8a8a8a" stroke-width="1"/>
<line x1="562.5" y1="471.5" x2="562.5" y2="475.0" stroke="#f0f0f0" stroke-width="1"/>
<line x1="643.5" y1="471.5" x2="643.5" y2="505" stroke="#8a8a8a" stroke-width="1"/>
<line x1="643.5" y1="471.5" x2="643.5" y2="475.0" stroke="#f0f0f0" stroke-width="1"/>
<line x1="723.5" y1="471.5" x2="723.5" y2="505" stroke="#8a8a8a" stroke-width="1"/>
<line x1="723.5" y1="471.5" x2="723.5" y2="475.0" stroke="#f0f0f0" stroke-width="1"/>
<line x1="803.5" y1="471.5" x2="803.5" y2="505" stroke="#8a8a8a" stroke-width="1"/>
<line x1="803.5" y1="471.5" x2="803.5" y2="475.0" stroke="#f0f0f0" stroke-width="1"/>
<line x1="885.5" y1="471.5" x2="885.5" y2="505" stroke="#8a8a8a" stroke-width="1"/>
<line x1="885.5" y1="471.5" x2="885.5" y2="475.0" stroke="#f0f0f0" stroke-width="1"/>
<line x1="19.5" y1="471.5" x2="19.5" y2="475.1" stroke="#f0f0f0" stroke-width="1"/>
<line x1="39.5" y1="471.5" x2="39.5" y2="475.1" stroke="#f0f0f0" stroke-width="1"/>
<line x1="59.5" y1="471.5" x2="59.5" y2="475.1" stroke="#f0f0f0" stroke-width="1"/>
<line x1="99.5" y1="471.5" x2="99.5" y2="475.1" stroke="#f0f0f0" stroke-width="1"/>
<line x1="119.5" y1="471.5" x2="119.5" y2="475.1" stroke="#f0f0f0" stroke-width="1"/>
<line x1="139.5" y1="471.5" x2="139.5" y2="475.1" stroke="#f0f0f0" stroke-width="1"/>
<line x1="179.5" y1="471.5" x2="179.5" y2="475.1" stroke="#f0f0f0" stroke-width="1"/>
<line x1="199.5" y1="471.5" x2="199.5" y2="475.1" stroke="#f0f0f0" stroke-width="1"/>
<line x1="219.5" y1="471.5" x2="219.5" y2="475.1" stroke="#f0f0f0" stroke-width="1"/>
<line x1="259.5" y1="471.5" x2="259.5" y2="475.1" stroke="#f0f0f0" stroke-width="1"/>
<line x1="280.5" y1="471.5" x2="280.5" y2="475.1" stroke="#f0f0f0" stroke-width="1"/>
<line x1="300.5" y1="471.5" x2="300.5" y2="475.1" stroke="#f0f0f0" stroke-width="1"/>
<line x1="340.5" y1="471.5" x2="340.5" y2="475.1" stroke="#f0f0f0" stroke-width="1"/>
<line x1="360.5" y1="471.5" x2="360.5" y2="475.1" stroke="#f0f0f0" stroke-width="1"/>
<line x1="380.5" y1="471.5" x2="380.5" y2="475.1" stroke="#f0f0f0" stroke-width="1"/>
<line x1="421.5" y1="471.5" x2="421.5" y2="475.1" stroke="#f0f0f0" stroke-width="1"/>
<line x1="441.5" y1="471.5" x2="441.5" y2="475.1" stroke="#f0f0f0" stroke-width="1"/>
<line x1="462.5" y1="471.5" x2="462.5" y2="475.1" stroke="#f0f0f0" stroke-width="1"/>
<line x1="502.5" y1="471.5" x2="502.5" y2="475.1" stroke="#f0f0f0" stroke-width="1"/>
<line x1="522.5" y1="471.5" x2="522.5" y2="475.1" stroke="#f0f0f0" stroke-width="1"/>
<line x1="542.5" y1="471.5" x2="542.5" y2="475.1" stroke="#f0f0f0" stroke-width="1"/>
<line x1="582.5" y1="471.5" x2="582.5" y2="475.1" stroke="#f0f0f0" stroke-width="1"/>
<line x1="603.5" y1="471.5" x2="603.5" y2="475.1" stroke="#f0f0f0" stroke-width="1"/>
<line x1="623.5" y1="471.5" x2="623.5" y2="475.1" stroke="#f0f0f0" stroke-width="1"/>
<line x1="663.5" y1="471.5" x2="663.5" y2="475.1" stroke="#f0f0f0" stroke-width="1"/>
<line x1="683.5" y1="471.5" x2="683.5" y2="475.1" stroke="#f0f0f0" stroke-width="1"/>
<line x1="703.5" y1="471.5" x2="703.5" y2="475.1" stroke="#f0f0f0" stroke-width="1"/>
<line x1="743.5" y1="471.5" x2="743.5" y2="475.1" stroke="#f0f0f0" stroke-width="1"/>
<line x1="763.5" y1="471.5" x2="763.5" y2="475.1" stroke="#f0f0f0" stroke-width="1"/>
<line x1="783.5" y1="471.5" x2="783.5" y2="475.1" stroke="#f0f0f0" stroke-width="1"/>
<line x1="824.5" y1="471.5" x2="824.5" y2="475.1" stroke="#f0f0f0" stroke-width="1"/>
<line x1="844.5" y1="471.5" x2="844.5" y2="475.1" stroke="#f0f0f0" stroke-width="1"/>
<line x1="865.5" y1="471.5" x2="865.5" y2="475.1" stroke="#f0f0f0" stroke-width="1"/>
<path d="M894.5,163.3 L900,155 L937,155 L937,171.6 L900,171.6 Z" fill="#499fff"/>
</svg>
<div class="t yl" id="y0" style="left:903.0px;top:31.1px;transform:scaleX(0.8697)">10.0</div>
<div class="t yl" id="y1" style="left:903.0px;top:103.1px;transform:scaleX(0.9143)">5.0</div>
<div class="t yl" id="y2" style="left:903.0px;top:175.1px;transform:scaleX(0.9143)">0.0</div>
<div class="t yl" id="y3" style="left:903.0px;top:247.1px;transform:scaleX(0.8771)"><span class="m">-</span>5.0</div>
<div class="t yl" id="y4" style="left:903.0px;top:319.1px;transform:scaleX(0.8992)"><span class="m">-</span>10.0</div>
<div class="t yl" id="y5" style="left:903.0px;top:391.1px;transform:scaleX(0.8992)"><span class="m">-</span>15.0</div>
<div class="t yl" id="cur" style="left:902.3px;top:156.4px;color:#0c2d6c;-webkit-text-stroke:0.4px #0c2d6c;transform:scaleX(0.8218)">1.3</div>
<div class="t yr" id="yr0" style="left:25.8px;top:489.6px;transform:scaleX(0.8634)">2014</div>
<div class="t yr" id="yr1" style="left:106.0px;top:489.6px;transform:scaleX(0.8634)">2015</div>
<div class="t yr" id="yr2" style="left:186.1px;top:489.6px;transform:scaleX(0.8634)">2016</div>
<div class="t yr" id="yr3" style="left:266.6px;top:489.6px;transform:scaleX(0.8634)">2017</div>
<div class="t yr" id="yr4" style="left:347.1px;top:489.6px;transform:scaleX(0.8634)">2018</div>
<div class="t yr" id="yr5" style="left:428.1px;top:489.6px;transform:scaleX(0.8634)">2019</div>
<div class="t yr" id="yr6" style="left:509.1px;top:489.6px;transform:scaleX(0.8634)">2020</div>
<div class="t yr" id="yr7" style="left:589.5px;top:489.6px;transform:scaleX(0.8634)">2021</div>
<div class="t yr" id="yr8" style="left:670.0px;top:489.6px;transform:scaleX(0.8634)">2022</div>
<div class="t yr" id="yr9" style="left:750.0px;top:489.6px;transform:scaleX(0.8634)">2023</div>
<div class="t yr" id="yr10" style="left:831.0px;top:489.6px;transform:scaleX(0.8634)">2024</div>
<div class="g lgd" id="lg" style="top:10.2px"><span class="t" id="lgw0" style="left:25.4px;top:0;transform:scaleX(0.7555)">CFTC</span> <span class="t" id="lgw1" style="left:58.0px;top:0;transform:scaleX(0.7422)">CME</span> <span class="t" id="lgw2" style="left:86.3px;top:0;transform:scaleX(0.9427)">E-Mini</span> <span class="t" id="lgw3" style="left:129.5px;top:0;transform:scaleX(0.8210)">S&amp;P</span> <span class="t" id="lgw4" style="left:157.3px;top:0;transform:scaleX(0.9076)">500</span> <span class="t" id="lgw5" style="left:183.3px;top:0;transform:scaleX(0.7662)">Net</span> <span class="t" id="lgw6" style="left:208.2px;top:0;transform:scaleX(0.9426)">Non-Commercial</span> <span class="t" id="lgw7" style="left:312.9px;top:0;transform:scaleX(0.9122)">Futures</span> <span class="t" id="lgw8" style="left:362.9px;top:0;transform:scaleX(0.9558)">Positions</span> <span class="t" id="lgw9" style="left:422.4px;top:0;transform:scaleX(0.4657)">%</span> <span class="t" id="lgw10" style="left:435.3px;top:0;transform:scaleX(1.0353)">of</span> <span class="t" id="lgw11" style="left:452.6px;top:0;transform:scaleX(0.8175)">Open</span> <span class="t" id="lgw12" style="left:486.8px;top:0;transform:scaleX(1.0064)">Interest</span></div>
<div class="g ft" id="f1" style="top:509.3px"><span class="t" id="f1w0" style="left:2.6px;top:0;transform:scaleX(0.9204)">IMM0ENCN</span> <span class="t" id="f1w1" style="left:61.5px;top:0;transform:scaleX(0.9918)">Index</span> <span class="t" id="f1w2" style="left:93.9px;top:0;transform:scaleX(0.8752)">(CME</span> <span class="t" id="f1w3" style="left:123.8px;top:0;transform:scaleX(0.8904)">EMini</span> <span class="t" id="f1w4" style="left:154.1px;top:0;transform:scaleX(0.8040)">S&amp;P</span> <span class="t" id="f1w5" style="left:178.9px;top:0;transform:scaleX(0.8933)">500</span> <span class="t" id="f1w6" style="left:201.7px;top:0;transform:scaleX(1.0894)">Idx</span> <span class="t" id="f1w7" style="left:222.2px;top:0;transform:scaleX(0.9985)">Net</span> <span class="t" id="f1w8" style="left:242.8px;top:0;transform:scaleX(0.8867)">NCFP)</span> <span class="t" id="f1w9" style="left:278.8px;top:0;transform:scaleX(0.9266)">S&amp;P</span> <span class="t" id="f1w10" style="left:304.6px;top:0;transform:scaleX(0.8551)">500</span> <span class="t" id="f1w11" style="left:325.7px;top:0;transform:scaleX(0.7838)">HF</span> <span class="t" id="f1w12" style="left:343.1px;top:0;transform:scaleX(1.0162)">Positioning</span></div>
<div class="g ft" id="f2" style="top:509.3px"><span class="t" id="f2w0" style="left:405.8px;top:0;transform:scaleX(0.9171)">Weekly</span> <span class="t" id="f2w1" style="left:444.6px;top:0;transform:scaleX(0.9556)">01JAN2014-15OCT2024</span></div>
<div class="g ft" id="f3" style="top:509.3px"><span class="t" id="f3w0" style="left:586.6px;top:0;transform:scaleX(0.9948)">Copyright©</span> <span class="t" id="f3w1" style="left:646.2px;top:0;transform:scaleX(0.8904)">2024</span> <span class="t" id="f3w2" style="left:673.9px;top:0;transform:scaleX(0.9924)">Bloomberg</span> <span class="t" id="f3w3" style="left:732.6px;top:0;transform:scaleX(0.9300)">Finance</span> <span class="t" id="f3w4" style="left:774.4px;top:0;transform:scaleX(0.9969)">L.P.</span></div>
<div class="g ft" id="f4" style="top:509.3px"><span class="t" id="f4w0" style="left:820.3px;top:0;transform:scaleX(1.0449)">21-Oct-2024</span> <span class="t" id="f4w1" style="left:889.6px;top:0;transform:scaleX(1.0414)">07:44:12</span></div>
</body></html>
